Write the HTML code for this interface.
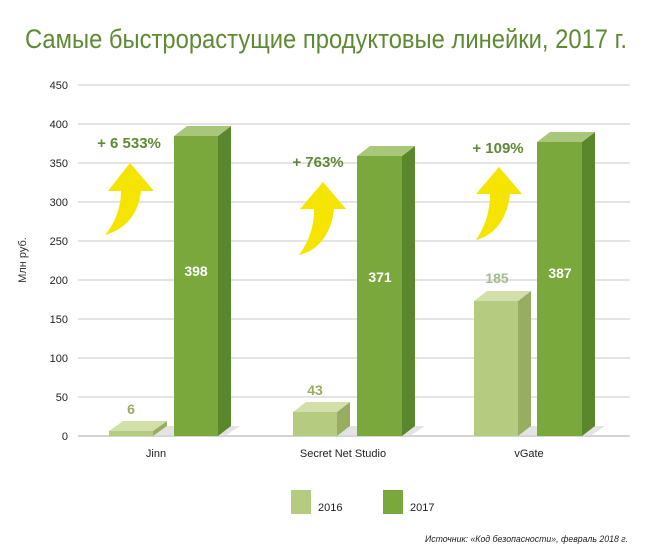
<!DOCTYPE html>
<html><head><meta charset="utf-8"><style>
html,body{margin:0;padding:0;background:#fff;width:647px;height:558px;overflow:hidden}
svg text{font-family:"Liberation Sans","DejaVu Sans",sans-serif}
</style></head><body>
<svg width="647" height="558" viewBox="0 0 647 558" xmlns="http://www.w3.org/2000/svg">
<text x="25" y="48" font-size="27" fill="#5e8a33" textLength="602" lengthAdjust="spacingAndGlyphs">Самые быстрорастущие продуктовые линейки, 2017 г.</text>
<g stroke="#d4d4d4" stroke-width="1.2">
<line x1="78" y1="85" x2="630" y2="85"/><line x1="78" y1="124" x2="630" y2="124"/><line x1="78" y1="163" x2="630" y2="163"/><line x1="78" y1="202" x2="630" y2="202"/><line x1="78" y1="241" x2="630" y2="241"/><line x1="78" y1="280" x2="630" y2="280"/><line x1="78" y1="319" x2="630" y2="319"/><line x1="78" y1="358" x2="630" y2="358"/><line x1="78" y1="397" x2="630" y2="397"/><line x1="78" y1="436" x2="630" y2="436" stroke="#bbb"/>
</g>
<g font-size="11" fill="#222" text-anchor="end">
<text x="68" y="89">450</text><text x="68" y="128">400</text><text x="68" y="167">350</text><text x="68" y="206">300</text><text x="68" y="245">250</text><text x="68" y="284">200</text><text x="68" y="323">150</text><text x="68" y="362">100</text><text x="68" y="401">50</text><text x="68" y="440">0</text>
</g>
<text transform="translate(26,260) rotate(-90)" font-size="11" fill="#333" text-anchor="middle">Млн руб.</text>
<!-- floor shadows -->
<g fill="#dcdcdc" opacity="0.8">
<polygon points="153,436 167,426 240,426 225,436"/>
<polygon points="337,436 350,426 425,426 410,436"/>
<polygon points="518,436 531,426 605,426 590,436"/>
</g>
<!-- bars: front, side, top -->
<g>
<!-- Jinn 2016 -->
<rect x="109" y="431" width="44" height="5" fill="#b5cc80"/>
<polygon points="153,431 167,421 167,426 153,436" fill="#97ad62"/>
<polygon points="109,431 123,421 167,421 153,431" fill="#d0e0a8"/>
<!-- Jinn 2017 -->
<rect x="174" y="136" width="44" height="300" fill="#7aa83c"/>
<polygon points="218,136 231,126 231,426 218,436" fill="#5a872b"/>
<polygon points="174,136 187,126 231,126 218,136" fill="#a9c77a"/>
<!-- SNS 2016 -->
<rect x="293" y="412" width="44" height="24" fill="#b5cc80"/>
<polygon points="337,412 350,402 350,426 337,436" fill="#97ad62"/>
<polygon points="293,412 306,402 350,402 337,412" fill="#d0e0a8"/>
<!-- SNS 2017 -->
<rect x="357" y="156" width="45" height="280" fill="#7aa83c"/>
<polygon points="402,156 415,146 415,426 402,436" fill="#5a872b"/>
<polygon points="357,156 370,146 415,146 402,156" fill="#a9c77a"/>
<!-- vGate 2016 -->
<rect x="474" y="301" width="44" height="135" fill="#b5cc80"/>
<polygon points="518,301 531,291 531,426 518,436" fill="#97ad62"/>
<polygon points="474,301 487,291 531,291 518,301" fill="#d0e0a8"/>
<!-- vGate 2017 -->
<rect x="537" y="142" width="45" height="294" fill="#7aa83c"/>
<polygon points="582,142 595,132 595,426 582,436" fill="#5a872b"/>
<polygon points="537,142 550,132 595,132 582,142" fill="#a9c77a"/>
</g>
<g font-size="14" font-weight="bold" text-anchor="middle">
<text x="196" y="276" fill="#fff">398</text>
<text x="380" y="282" fill="#fff">371</text>
<text x="560" y="278" fill="#fff">387</text>
<text x="131" y="414" fill="#97ad62">6</text>
<text x="315" y="395" fill="#97ad62">43</text>
<text x="497" y="283" fill="#a8b890">185</text>
</g>
<g font-size="15" font-weight="bold" fill="#5e8a33" text-anchor="middle">
<text x="129" y="148">+ 6 533%</text>
<text x="318" y="167">+ 763%</text>
<text x="498" y="153">+ 109%</text>
</g>
<g fill="#f5e400">
<path d="M130,163 L154,191 L141,191 C139,212 127,229 105,235 C116,222 121,206 121,191 L108,191 Z"/>
<path d="M323,182 L346,209 L334,209 C332,230 321,250 299,255 C310,240 314,225 314,209 L300,209 Z"/>
<path d="M499,167 L522,194 L510,194 C508,215 497,235 476,240 C486,225 490,210 490,194 L476,194 Z"/>
</g>
<g font-size="11" fill="#222" text-anchor="middle">
<text x="156" y="457">Jinn</text>
<text x="343" y="457">Secret Net Studio</text>
<text x="529" y="457">vGate</text>
</g>
<rect x="291" y="490" width="20" height="24" fill="#b5cc80"/>
<text x="318" y="511" font-size="11" fill="#222">2016</text>
<rect x="383" y="490" width="20" height="24" fill="#7aa83c"/>
<text x="410" y="511" font-size="11" fill="#222">2017</text>
<text x="628" y="542" font-size="9.5" font-style="italic" fill="#222" text-anchor="end" textLength="203" lengthAdjust="spacingAndGlyphs">Источник: «Код безопасности», февраль 2018 г.</text>
</svg>
</body></html>
